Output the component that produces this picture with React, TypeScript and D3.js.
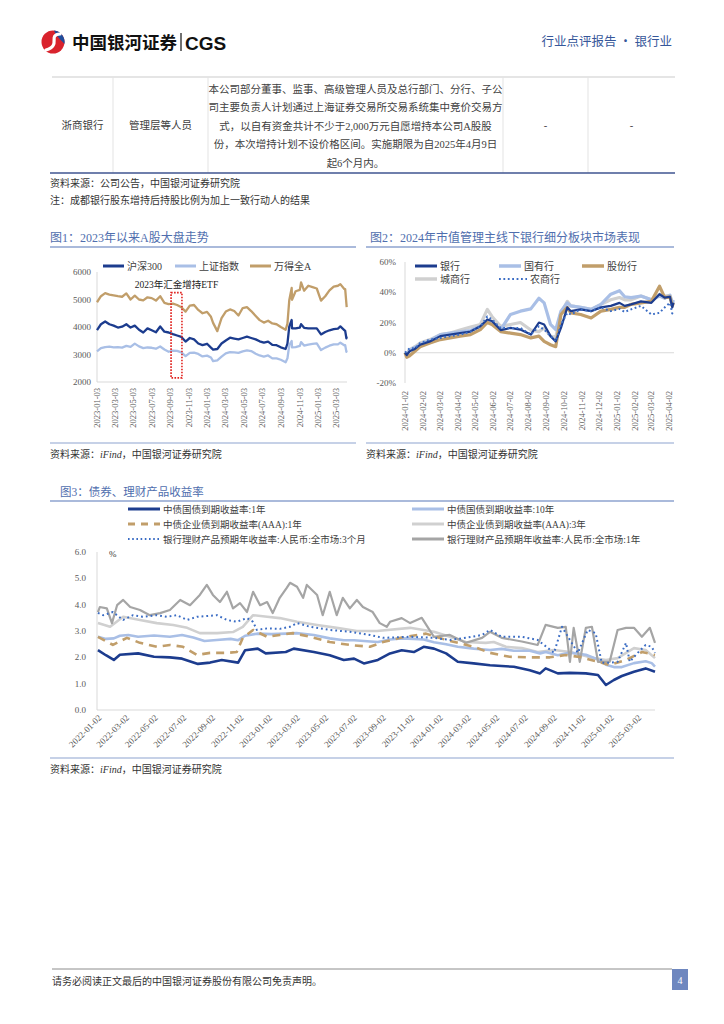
import * as d3 from "d3";

const parse = d3.timeParse("%Y-%m-%d") as (s: string) => Date;

const SERIF = "'Liberation Serif', 'Noto Sans CJK SC', serif";
const CJK = "'Noto Sans CJK SC', 'Liberation Serif', sans-serif";
const TITLE_BLUE = "#4f6eae";
const RULE_BLUE = "#8ea3cf";
const TICK_GREY = "#595959";

// colours
const NAVY = "#1c3c8e";
const LIGHT_BLUE = "#a9bfe6";
const TAN = "#c19e6a";
const LIGHT_GREY = "#d0d0d0";
const DOT_BLUE = "#3a6cc4";
const GREY = "#a5a5a5";

// ---------------- 图1：2023年以来A股大盘走势 ----------------
const dates1 = [
  "2023-01-03", "2023-01-16", "2023-01-30", "2023-02-13", "2023-02-27", "2023-03-13", "2023-03-27",
  "2023-04-10", "2023-04-24", "2023-05-08", "2023-05-22", "2023-06-05", "2023-06-19", "2023-07-03",
  "2023-07-17", "2023-07-31", "2023-08-14", "2023-08-28", "2023-09-11", "2023-09-25", "2023-10-09",
  "2023-10-23", "2023-11-06", "2023-11-20", "2023-12-04", "2023-12-18",
  "2024-01-02", "2024-01-15", "2024-01-22", "2024-02-05", "2024-02-19", "2024-03-04", "2024-03-18",
  "2024-04-01", "2024-04-15", "2024-04-29", "2024-05-13", "2024-05-27", "2024-06-11", "2024-06-24",
  "2024-07-08", "2024-07-22", "2024-08-05", "2024-08-19", "2024-09-02", "2024-09-18", "2024-09-24",
  "2024-09-30", "2024-10-08", "2024-10-09", "2024-10-21", "2024-11-04", "2024-11-08", "2024-11-18",
  "2024-12-02", "2024-12-16", "2024-12-30",
  "2025-01-13", "2025-01-27", "2025-02-10", "2025-02-24", "2025-03-10", "2025-03-18", "2025-03-31",
  "2025-04-03", "2025-04-07", "2025-04-08",
];
const hs300 = [
  3887, 4100, 4200, 4100, 4050, 3980, 4010, 4100, 3980, 4050, 3900, 3800, 3950, 3880, 3810, 4020,
  3830, 3800, 3740, 3690, 3640, 3470, 3600, 3550, 3400, 3340,
  3390, 3250, 3180, 3200, 3400, 3510, 3610, 3580, 3550, 3600, 3650, 3600, 3550, 3480, 3430, 3470,
  3350, 3340, 3260, 3200, 3400, 4017, 4256, 3955, 3950, 3980, 4105, 3970, 3950, 3950, 3950,
  3730, 3820, 3880, 3920, 3940, 4020, 3890, 3860, 3590, 3650,
];
const szzs = [
  3116, 3230, 3270, 3285, 3260, 3270, 3250, 3315, 3275, 3395, 3295, 3230, 3255, 3245, 3210, 3290,
  3180, 3100, 3140, 3130, 3075, 2940, 3060, 3070, 3020, 2930,
  2960, 2890, 2760, 2790, 2920, 3040, 3085, 3080, 3060, 3115, 3150, 3125, 3030, 2965, 2925, 2965,
  2860, 2860, 2810, 2720, 2860, 3336, 3489, 3258, 3268, 3310, 3452, 3324, 3363, 3386, 3407,
  3160, 3250, 3320, 3370, 3366, 3430, 3336, 3342, 3097, 3145,
];
const wdqa = [
  4900, 5120, 5230, 5180, 5150, 5120, 5100, 5220, 5000, 5140, 5000, 4970, 5080, 5050, 4960, 5120,
  4880, 4830, 4850, 4800, 4720, 4560, 4780, 4800, 4620, 4500,
  4550, 4370, 4150, 3850, 4320, 4560, 4640, 4580, 4420, 4690, 4720, 4580, 4400, 4250, 4160, 4230,
  4130, 4100, 4000, 3900, 4120, 4970, 5420, 4990, 5300, 5350, 5620, 5320, 5500, 5450, 5400,
  4960, 5120, 5330, 5470, 5500, 5560, 5380, 5380, 4850, 4720,
];
const ticks1 = [
  "2023-01-03", "2023-03-03", "2023-05-03", "2023-07-03", "2023-09-03", "2023-11-03", "2024-01-03",
  "2024-03-03", "2024-05-03", "2024-07-03", "2024-09-03", "2024-11-03", "2025-01-03", "2025-03-03",
];
const yTicks1 = [2000, 3000, 4000, 5000, 6000];
// 汇金增持ETF 标注区间
const huijinStart = "2023-09-05";
const huijinEnd = "2023-10-11";
const huijinHigh = 5250;
const huijinLow = 2150;

// ---------------- 图2：2024年市值管理主线下银行细分板块市场表现 ----------------
const dates2 = [
  "2024-01-02", "2024-01-05", "2024-01-10", "2024-01-19", "2024-01-28", "2024-02-14", "2024-03-03",
  "2024-03-20", "2024-04-06", "2024-04-24", "2024-05-11", "2024-05-23", "2024-05-31", "2024-06-15",
  "2024-07-02", "2024-07-19", "2024-08-06", "2024-08-20", "2024-08-29", "2024-09-09", "2024-09-18",
  "2024-09-27", "2024-10-08", "2024-10-14", "2024-10-31", "2024-11-18", "2024-12-05", "2024-12-22",
  "2025-01-06", "2025-01-15", "2025-01-26", "2025-02-12", "2025-03-02", "2025-03-16", "2025-03-25",
  "2025-04-03", "2025-04-07", "2025-04-09",
];
const bankAll = [
  0, -1.5, 1, 2.5, 5.3, 7.5, 11, 12, 13, 14, 17.5, 22, 21, 15, 16.4, 15.3, 12, 20, 18.7, 11, 7.5,
  16.4, 30, 27.5, 28.7, 27.5, 30, 31, 33, 31, 32, 34, 33, 38.7, 36.4, 37, 30, 33,
];
const bankState = [
  0, -0.5, 1.5, 3.5, 5.3, 8, 12, 13, 13.8, 14.7, 17.5, 20, 20, 15.3, 25.3, 27.5, 29, 36, 33, 18.7,
  15.3, 27.5, 33, 31, 30, 28.7, 32, 38.7, 41, 37, 36.4, 37.5, 35, 37.5, 36, 38, 33, 35,
];
const bankJoint = [
  0, -3, -2, 1, 4, 6.4, 8.7, 9.8, 11, 12, 15.3, 20, 18.7, 14, 13, 12, 9.8, 11, 7.5, 5.3, 4, 25.3, 30,
  26.4, 25.3, 23, 27.5, 28.7, 30, 30, 32, 33, 34, 44, 36.4, 37, 31, 33,
];
const bankCity = [
  0, -1, 2, 4, 6.4, 8.7, 12, 13, 15, 17, 18.7, 28.7, 24, 17.5, 18.7, 20, 15, 14, 16.4, 11, 10, 26,
  34, 31, 30, 28.7, 32, 35, 36.5, 35, 35, 37.5, 35, 38.7, 37.5, 38, 32, 34,
];
const bankRural = [
  0, 1, 3, 3, 6.4, 8.7, 9.8, 11, 12, 14, 17.5, 24, 22, 16.4, 16.4, 16.4, 12, 17.5, 15.3, 11, 7.5,
  18.7, 26.4, 25.3, 28.7, 27.5, 30, 27.5, 29, 27, 28.7, 31, 25.3, 26.4, 30, 33, 26, 28,
];
const ticks2 = [
  "2024-01-02", "2024-02-02", "2024-03-02", "2024-04-02", "2024-05-02", "2024-06-02", "2024-07-02",
  "2024-08-02", "2024-09-02", "2024-10-02", "2024-11-02", "2024-12-02", "2025-01-02", "2025-02-02",
  "2025-03-02", "2025-04-02",
];
const yTicks2 = [-20, 0, 20, 40, 60];

// ---------------- 图3：债券、理财产品收益率 ----------------
type Pt = [string, number];
const cgb1y: Pt[] = [
  ["2022-01-04", 2.27], ["2022-01-21", 2.08], ["2022-02-07", 1.9], ["2022-02-20", 2.1], ["2022-03-31", 2.15],
  ["2022-05-04", 2.02], ["2022-06-07", 2.0], ["2022-07-03", 1.95], ["2022-08-06", 1.75], ["2022-09-01", 1.8],
  ["2022-09-26", 1.9], ["2022-10-31", 1.8], ["2022-11-15", 2.27], ["2022-12-12", 2.33], ["2022-12-29", 2.15],
  ["2023-02-10", 2.2], ["2023-02-27", 2.33], ["2023-04-11", 2.2], ["2023-05-15", 2.08], ["2023-06-14", 1.9],
  ["2023-07-06", 1.95], ["2023-07-27", 1.77], ["2023-08-26", 1.9], ["2023-09-21", 2.15], ["2023-10-16", 2.27],
  ["2023-11-11", 2.2], ["2023-12-02", 2.4], ["2023-12-24", 2.33], ["2024-01-19", 2.15], ["2024-02-13", 1.83],
  ["2024-03-18", 1.77], ["2024-04-22", 1.7], ["2024-05-17", 1.67], ["2024-06-12", 1.64], ["2024-07-16", 1.51],
  ["2024-08-07", 1.39], ["2024-08-19", 1.58], ["2024-09-14", 1.39], ["2024-10-10", 1.41], ["2024-11-13", 1.39],
  ["2024-12-09", 1.33], ["2024-12-26", 0.95], ["2025-01-12", 1.14], ["2025-01-29", 1.29], ["2025-02-24", 1.45],
  ["2025-03-21", 1.58], ["2025-04-10", 1.45],
];
const cgb10y: Pt[] = [
  ["2022-01-04", 2.78], ["2022-01-21", 2.7], ["2022-02-07", 2.72], ["2022-02-20", 2.82], ["2022-03-10", 2.85],
  ["2022-03-31", 2.78], ["2022-05-04", 2.83], ["2022-06-07", 2.78], ["2022-07-03", 2.85], ["2022-07-27", 2.75],
  ["2022-08-20", 2.62], ["2022-09-15", 2.66], ["2022-10-15", 2.7], ["2022-10-31", 2.65], ["2022-11-15", 2.82],
  ["2022-12-12", 2.9], ["2023-01-10", 2.88], ["2023-02-10", 2.9], ["2023-03-05", 2.92], ["2023-04-11", 2.85],
  ["2023-05-15", 2.72], ["2023-06-14", 2.65], ["2023-07-06", 2.65], ["2023-08-10", 2.6], ["2023-08-26", 2.58],
  ["2023-09-21", 2.68], ["2023-10-16", 2.72], ["2023-11-11", 2.7], ["2023-12-02", 2.68], ["2023-12-24", 2.57],
  ["2024-01-19", 2.5], ["2024-02-13", 2.4], ["2024-03-18", 2.33], ["2024-04-22", 2.28], ["2024-05-17", 2.32],
  ["2024-06-12", 2.25], ["2024-07-16", 2.25], ["2024-08-07", 2.15], ["2024-08-19", 2.2], ["2024-09-14", 2.08],
  ["2024-10-10", 2.18], ["2024-11-13", 2.1], ["2024-12-09", 1.92], ["2024-12-26", 1.72], ["2025-01-12", 1.63],
  ["2025-01-29", 1.63], ["2025-02-24", 1.78], ["2025-03-21", 1.85], ["2025-04-03", 1.78], ["2025-04-10", 1.65],
];
const corp1y: Pt[] = [
  ["2022-01-04", 2.78], ["2022-02-05", 2.47], ["2022-03-07", 2.74], ["2022-04-04", 2.55], ["2022-05-10", 2.4],
  ["2022-06-07", 2.47], ["2022-07-05", 2.4], ["2022-08-04", 2.09], ["2022-09-01", 2.17], ["2022-10-07", 2.17],
  ["2022-10-28", 2.2], ["2022-11-10", 2.74], ["2022-12-02", 3.04], ["2023-01-01", 2.78], ["2023-01-28", 2.85],
  ["2023-02-25", 2.92], ["2023-04-03", 2.78], ["2023-05-15", 2.58], ["2023-06-27", 2.47], ["2023-08-09", 2.4],
  ["2023-09-06", 2.58], ["2023-10-16", 2.75], ["2023-12-07", 2.9], ["2024-01-19", 2.66], ["2024-03-18", 2.4],
  ["2024-04-22", 2.17], ["2024-06-03", 2.02], ["2024-07-16", 2.0], ["2024-08-28", 2.0], ["2024-10-01", 2.09],
  ["2024-11-04", 2.0], ["2024-12-09", 1.83], ["2025-01-03", 1.71], ["2025-02-07", 1.9], ["2025-03-13", 2.2],
  ["2025-04-10", 2.09],
];
const corp3y: Pt[] = [
  ["2022-01-04", 3.3], ["2022-01-30", 3.16], ["2022-02-27", 3.54], ["2022-04-04", 3.42], ["2022-05-10", 3.3],
  ["2022-06-14", 3.23], ["2022-07-14", 3.12], ["2022-08-10", 2.92], ["2022-09-16", 2.92], ["2022-10-20", 2.96],
  ["2022-11-10", 3.16], ["2022-12-02", 3.6], ["2023-01-01", 3.54], ["2023-01-28", 3.49], ["2023-03-06", 3.35],
  ["2023-04-18", 3.23], ["2023-05-30", 3.12], ["2023-07-12", 3.0], ["2023-08-24", 3.0], ["2023-11-03", 3.12],
  ["2023-12-24", 2.97], ["2024-01-27", 2.78], ["2024-03-01", 2.58], ["2024-04-13", 2.55], ["2024-04-30", 2.58],
  ["2024-05-26", 2.4], ["2024-06-29", 2.35], ["2024-08-02", 2.2], ["2024-09-06", 2.28], ["2024-10-10", 2.2],
  ["2024-11-04", 2.09], ["2024-11-30", 1.97], ["2024-12-26", 1.9], ["2025-01-20", 1.97], ["2025-02-24", 2.35],
  ["2025-03-21", 2.28], ["2025-04-10", 1.97],
];
const wmp3m: Pt[] = [
  ["2022-01-04", 3.69], ["2022-01-15", 3.6], ["2022-02-05", 3.72], ["2022-02-27", 3.42], ["2022-03-20", 3.6],
  ["2022-04-10", 3.54], ["2022-05-10", 3.6], ["2022-06-01", 3.54], ["2022-06-22", 3.6], ["2022-07-14", 3.42],
  ["2022-08-04", 3.54], ["2022-08-25", 3.57], ["2022-09-16", 3.6], ["2022-10-07", 3.42], ["2022-10-28", 3.35],
  ["2022-11-19", 3.49], ["2022-12-02", 3.35], ["2022-12-10", 3.04], ["2023-01-01", 3.1], ["2023-01-28", 3.08],
  ["2023-02-19", 3.16], ["2023-03-06", 3.3], ["2023-04-03", 3.16], ["2023-05-15", 3.04], ["2023-06-27", 2.97],
  ["2023-08-09", 2.85], ["2023-09-06", 2.74], ["2023-11-03", 2.78], ["2023-12-24", 2.74], ["2024-01-27", 2.66],
  ["2024-03-01", 2.74], ["2024-04-05", 2.85], ["2024-04-22", 3.04], ["2024-05-17", 2.78], ["2024-06-29", 2.78],
  ["2024-08-02", 2.66], ["2024-09-06", 2.17], ["2024-09-23", 3.16], ["2024-10-10", 2.66], ["2024-10-27", 2.17],
  ["2024-11-17", 3.04], ["2024-12-04", 2.92], ["2024-12-17", 1.79], ["2025-01-03", 1.79], ["2025-01-20", 1.83],
  ["2025-02-07", 2.55], ["2025-02-15", 1.83], ["2025-03-04", 2.17], ["2025-03-21", 2.47], ["2025-04-03", 2.4],
  ["2025-04-10", 2.17],
];
const wmp1y: Pt[] = [
  ["2022-01-04", 3.72], ["2022-01-08", 3.91], ["2022-01-23", 3.86], ["2022-02-03", 3.3], ["2022-02-14", 3.98],
  ["2022-02-27", 4.18], ["2022-03-14", 3.91], ["2022-04-04", 3.8], ["2022-04-25", 3.6], ["2022-05-17", 3.68],
  ["2022-06-07", 3.8], ["2022-06-29", 4.18], ["2022-07-20", 3.98], ["2022-08-10", 4.37], ["2022-08-25", 4.75],
  ["2022-09-07", 4.37], ["2022-09-22", 4.1], ["2022-10-07", 4.49], ["2022-10-20", 3.86], ["2022-11-04", 4.06],
  ["2022-11-19", 3.72], ["2022-12-02", 4.49], ["2022-12-17", 3.98], ["2023-01-01", 4.1], ["2023-01-13", 3.68],
  ["2023-01-28", 4.26], ["2023-02-12", 4.64], ["2023-02-19", 4.83], ["2023-03-06", 4.68], ["2023-03-19", 4.26],
  ["2023-03-27", 4.75], ["2023-04-18", 4.37], ["2023-04-30", 3.6], ["2023-05-15", 4.49], ["2023-05-30", 3.6],
  ["2023-06-12", 4.26], ["2023-06-27", 3.86], ["2023-07-12", 4.18], ["2023-07-25", 3.91], ["2023-08-15", 3.72],
  ["2023-08-30", 3.3], ["2023-09-14", 3.16], ["2023-09-21", 3.35], ["2023-10-16", 3.49], ["2023-11-03", 3.3],
  ["2023-11-28", 3.5], ["2023-12-24", 2.78], ["2024-01-27", 2.85], ["2024-03-01", 2.55], ["2024-04-05", 2.74],
  ["2024-04-22", 2.97], ["2024-05-17", 2.74], ["2024-06-29", 2.6], ["2024-08-02", 2.47], ["2024-08-19", 3.23],
  ["2024-09-14", 3.12], ["2024-10-01", 3.16], ["2024-10-10", 1.83], ["2024-10-18", 3.12], ["2024-10-31", 1.83],
  ["2024-11-13", 3.12], ["2024-11-26", 3.16], ["2024-12-09", 1.83], ["2025-01-03", 1.83], ["2025-01-20", 3.04],
  ["2025-02-07", 3.12], ["2025-02-24", 3.12], ["2025-03-13", 2.78], ["2025-03-30", 3.12], ["2025-04-10", 2.55],
];
const ticks3 = [
  "2022-01-02", "2022-03-02", "2022-05-02", "2022-07-02", "2022-09-02", "2022-11-02", "2023-01-02",
  "2023-03-02", "2023-05-02", "2023-07-02", "2023-09-02", "2023-11-02", "2024-01-02", "2024-03-02",
  "2024-05-02", "2024-07-02", "2024-09-02", "2024-11-02", "2025-01-02", "2025-03-02",
];
const yTicks3 = [0, 1, 2, 3, 4, 5, 6];

const tableText = [
  "本公司部分董事、监事、高级管理人员及总行部门、分行、子公",
  "司主要负责人计划通过上海证券交易所交易系统集中竞价交易方",
  "式，以自有资金共计不少于2,000万元自愿增持本公司A股股",
  "份，本次增持计划不设价格区间。实施期限为自2025年4月9日",
  "起6个月内。",
];

function Title({ x, y, x1, x2, text }: { x: number; y: number; x1: number; x2: number; text: string }) {
  return (
    <g>
      <text x={x} y={y} fontSize={12} fill={TITLE_BLUE} fontFamily={SERIF}>{text}</text>
      <line x1={x1} x2={x2} y1={y + 5} y2={y + 5} stroke={RULE_BLUE} strokeWidth={1.5} />
    </g>
  );
}

function Source({ x1, x2, y }: { x1: number; x2: number; y: number }) {
  return (
    <g>
      <line x1={x1} x2={x2} y1={y} y2={y} stroke={RULE_BLUE} strokeWidth={1.2} />
      <text x={x1} y={y + 15} fontSize={10} fill="#333" fontFamily={SERIF}>
        资料来源：<tspan fontStyle="italic">iFind</tspan>，中国银河证券研究院
      </text>
    </g>
  );
}

function Chart1() {
  const x = d3.scaleTime().domain([parse("2023-01-03"), parse("2025-04-09")]).range([97, 347]);
  const y = d3.scaleLinear().domain([2000, 6000]).range([382, 272]);
  const line = (vals: number[]) =>
    d3.line<number>().x((_, i) => x(parse(dates1[i]))).y((v) => y(v))(vals) || "";
  const series = [
    { name: "万得全A", vals: wdqa, color: TAN },
    { name: "上证指数", vals: szzs, color: LIGHT_BLUE },
    { name: "沪深300", vals: hs300, color: NAVY },
  ];
  const legend = [
    { name: "沪深300", color: NAVY, lx: 103 },
    { name: "上证指数", color: LIGHT_BLUE, lx: 175 },
    { name: "万得全A", color: TAN, lx: 250 },
  ];
  return (
    <g>
      <Title x={50} y={242} x1={50} x2={356} text="图1：2023年以来A股大盘走势" />
      {legend.map((l) => (
        <g key={l.name}>
          <line x1={l.lx} x2={l.lx + 21} y1={266} y2={266} stroke={l.color} strokeWidth={3} />
          <text x={l.lx + 24} y={269.5} fontSize={10} fill="#404040" fontFamily={SERIF}>{l.name}</text>
        </g>
      ))}
      <line x1={97} x2={97} y1={272} y2={382} stroke="#d9d9d9" />
      <line x1={97} x2={347} y1={382} y2={382} stroke="#d9d9d9" />
      {yTicks1.map((t) => (
        <text key={t} x={91} y={y(t)} dy="0.35em" textAnchor="end" fontSize={9} fill={TICK_GREY} fontFamily={SERIF}>
          {t}
        </text>
      ))}
      {ticks1.map((t) => (
        <text key={t} transform={`translate(${x(parse(t))},388) rotate(-90)`} dy="0.35em" textAnchor="end"
          fontSize={8.5} fill={TICK_GREY} fontFamily={SERIF}>{t}</text>
      ))}
      {series.map((s) => (
        <path key={s.name} d={line(s.vals)} fill="none" stroke={s.color} strokeWidth={2.3} strokeLinejoin="round" />
      ))}
      <rect x={x(parse(huijinStart))} y={y(huijinHigh)} width={x(parse(huijinEnd)) - x(parse(huijinStart))}
        height={y(huijinLow) - y(huijinHigh)} fill="none" stroke="#e0211d" strokeWidth={1.6} strokeDasharray="1.6,1.4" />
      <text x={(x(parse(huijinStart)) + x(parse(huijinEnd))) / 2} y={288} textAnchor="middle" fontSize={9.5}
        fill="#222" fontFamily={SERIF}>2023年汇金增持ETF</text>
      <Source x1={50} x2={356} y={443} />
    </g>
  );
}

function Chart2() {
  const x = d3.scaleTime().domain([parse("2024-01-02"), parse("2025-04-10")]).range([405, 674]);
  const y = d3.scaleLinear().domain([-20, 60]).range([383, 262]);
  const line = (vals: number[]) =>
    d3.line<number>().x((_, i) => x(parse(dates2[i]))).y((v) => y(v))(vals) || "";
  const series = [
    { name: "城商行", vals: bankCity, color: LIGHT_GREY, w: 3.2, dash: undefined },
    { name: "国有行", vals: bankState, color: LIGHT_BLUE, w: 3.2, dash: undefined },
    { name: "股份行", vals: bankJoint, color: TAN, w: 3.2, dash: undefined },
    { name: "银行", vals: bankAll, color: NAVY, w: 2.2, dash: undefined },
    { name: "农商行", vals: bankRural, color: DOT_BLUE, w: 2, dash: "1.8,2.6" },
  ];
  const legend = [
    { name: "银行", color: NAVY, w: 3, lx: 415, ly: 266, dash: undefined },
    { name: "国有行", color: LIGHT_BLUE, w: 3.5, lx: 499, ly: 266, dash: undefined },
    { name: "股份行", color: TAN, w: 3.5, lx: 582, ly: 266, dash: undefined },
    { name: "城商行", color: LIGHT_GREY, w: 3.5, lx: 415, ly: 279, dash: undefined },
    { name: "农商行", color: DOT_BLUE, w: 2, lx: 499, ly: 279, dash: "1.8,2.6" },
  ];
  return (
    <g>
      <Title x={370} y={242} x1={366} x2={674} text="图2：2024年市值管理主线下银行细分板块市场表现" />
      {legend.map((l) => (
        <g key={l.name}>
          <line x1={l.lx} x2={l.lx + (l.dash ? 28 : 22)} y1={l.ly} y2={l.ly} stroke={l.color} strokeWidth={l.w}
            strokeDasharray={l.dash} />
          <text x={l.lx + (l.dash ? 31 : 25)} y={l.ly + 3.5} fontSize={10} fill="#404040" fontFamily={SERIF}>{l.name}</text>
        </g>
      ))}
      <line x1={405} x2={405} y1={262} y2={383} stroke="#d9d9d9" />
      <line x1={405} x2={674} y1={y(0)} y2={y(0)} stroke="#d9d9d9" />
      {yTicks2.map((t) => (
        <text key={t} x={396} y={y(t)} dy="0.35em" textAnchor="end" fontSize={9} fill={TICK_GREY} fontFamily={SERIF}>
          {t}%
        </text>
      ))}
      {ticks2.map((t) => (
        <text key={t} transform={`translate(${x(parse(t))},391) rotate(-90)`} dy="0.35em" textAnchor="end"
          fontSize={8.5} fill={TICK_GREY} fontFamily={SERIF}>{t}</text>
      ))}
      {series.map((s) => (
        <path key={s.name} d={line(s.vals)} fill="none" stroke={s.color} strokeWidth={s.w}
          strokeDasharray={s.dash} strokeLinejoin="round" />
      ))}
      <Source x1={366} x2={674} y={443} />
    </g>
  );
}

function Chart3() {
  const x = d3.scaleTime().domain([parse("2022-01-02"), parse("2025-04-10")]).range([97, 655]);
  const y = d3.scaleLinear().domain([0, 6]).range([710, 552]);
  const line = d3.line<Pt>().x((d) => x(parse(d[0]))).y((d) => y(d[1]));
  const series = [
    { name: "中债企业债到期收益率(AAA):3年", data: corp3y, color: LIGHT_GREY, w: 2.6, dash: undefined },
    { name: "中债国债到期收益率:10年", data: cgb10y, color: LIGHT_BLUE, w: 2.6, dash: undefined },
    { name: "银行理财产品预期年收益率:人民币:全市场:1年", data: wmp1y, color: GREY, w: 2.2, dash: undefined },
    { name: "中债企业债到期收益率(AAA):1年", data: corp1y, color: TAN, w: 2.6, dash: "8,6" },
    { name: "银行理财产品预期年收益率:人民币:全市场:3个月", data: wmp3m, color: DOT_BLUE, w: 2, dash: "1.8,3" },
    { name: "中债国债到期收益率:1年", data: cgb1y, color: NAVY, w: 2.6, dash: undefined },
  ];
  const legend = [
    { name: "中债国债到期收益率:1年", color: NAVY, w: 3, dash: undefined, lx: 128, ly: 509 },
    { name: "中债国债到期收益率:10年", color: LIGHT_BLUE, w: 3, dash: undefined, lx: 412, ly: 509 },
    { name: "中债企业债到期收益率(AAA):1年", color: TAN, w: 3, dash: "7,6", lx: 128, ly: 524 },
    { name: "中债企业债到期收益率(AAA):3年", color: LIGHT_GREY, w: 3, dash: undefined, lx: 412, ly: 524 },
    { name: "银行理财产品预期年收益率:人民币:全市场:3个月", color: DOT_BLUE, w: 2, dash: "1.6,2.6", lx: 128, ly: 539 },
    { name: "银行理财产品预期年收益率:人民币:全市场:1年", color: GREY, w: 3, dash: undefined, lx: 412, ly: 539 },
  ];
  return (
    <g>
      <text x={60} y={496} fontSize={11.5} fill={TITLE_BLUE} fontFamily={SERIF}>图3：债券、理财产品收益率</text>
      <line x1={50} x2={674} y1={501} y2={501} stroke={RULE_BLUE} strokeWidth={1.5} />
      {legend.map((l) => (
        <g key={l.name}>
          <line x1={l.lx} x2={l.lx + 32} y1={l.ly} y2={l.ly} stroke={l.color} strokeWidth={l.w} strokeDasharray={l.dash} />
          <text x={l.lx + 35} y={l.ly + 3.5} fontSize={9.5} fill="#404040" fontFamily={SERIF}>{l.name}</text>
        </g>
      ))}
      <line x1={97} x2={97} y1={552} y2={710} stroke="#d9d9d9" />
      <line x1={97} x2={655} y1={710} y2={710} stroke="#d9d9d9" />
      {yTicks3.map((t) => (
        <text key={t} x={86} y={y(t)} dy="0.35em" textAnchor="end" fontSize={9} fill={TICK_GREY} fontFamily={SERIF}>
          {t.toFixed(1)}
        </text>
      ))}
      <text x={109} y={y(6)} dy="0.5em" fontSize={9} fill="#333" fontFamily={SERIF}>%</text>
      {ticks3.map((t) => (
        <text key={t} transform={`translate(${x(parse(t)) + 3},716) rotate(-45)`} dy="0.35em" textAnchor="end"
          fontSize={9} fill={TICK_GREY} fontFamily={SERIF}>{t}</text>
      ))}
      {series.map((s) => (
        <path key={s.name} d={line(s.data) || ""} fill="none" stroke={s.color} strokeWidth={s.w}
          strokeDasharray={s.dash} strokeLinejoin="round" />
      ))}
      <line x1={50} x2={674} y1={758} y2={758} stroke={RULE_BLUE} strokeWidth={1.2} />
      <text x={50} y={773} fontSize={10} fill="#333" fontFamily={SERIF}>
        资料来源：<tspan fontStyle="italic">iFind</tspan>，中国银河证券研究院
      </text>
    </g>
  );
}

function Header() {
  return (
    <g>
      <g transform="translate(53,42)">
        <circle r={11.5} fill="#d9232d" />
        <path d="M 1 -11.4 A 11.5 11.5 0 0 1 11.4 2 C 7 -3, 3 -6, 1 -11.4 Z" fill="#1e4d9b" />
        <path d="M 7 -8 C -6 -7, 9 3, -7 8" stroke="#fff" strokeWidth={3.2} fill="none" strokeLinecap="round" />
      </g>
      <text x={72} y={49} fontSize={17.5} fontWeight="bold" fill="#111" fontFamily={CJK}>中国银河证券</text>
      <line x1={181} x2={181} y1={33} y2={51} stroke="#111" strokeWidth={1.2} />
      <text x={185} y={49.5} fontSize={19} fontWeight="bold" fill="#111" fontFamily="'Liberation Sans', Arial, sans-serif">CGS</text>
      <text x={672} y={46} textAnchor="end" fontSize={12.5} fill="#36579a" fontFamily={CJK}>行业点评报告 · 银行业</text>
    </g>
  );
}

function Table() {
  const cols = [113, 208, 503, 588];
  return (
    <g fontFamily={SERIF} fill="#404040">
      <line x1={52} x2={675} y1={77} y2={77} stroke="#dcdcdc" strokeWidth={1.5} />
      {cols.map((c) => (
        <line key={c} x1={c} x2={c} y1={77} y2={173} stroke="#e3e3e3" />
      ))}
      <line x1={50} x2={675} y1={173} y2={173} stroke="#3f5591" strokeWidth={1.6} />
      <text x={82.5} y={125} dy="0.35em" textAnchor="middle" fontSize={10.5}>浙商银行</text>
      <text x={160.5} y={125} dy="0.35em" textAnchor="middle" fontSize={10.5}>管理层等人员</text>
      {tableText.map((t, i) => (
        <text key={i} x={355.5} y={89 + i * 18.5} dy="0.35em" textAnchor="middle" fontSize={10.5}>{t}</text>
      ))}
      <text x={545.5} y={125} dy="0.35em" textAnchor="middle" fontSize={10.5}>-</text>
      <text x={631.5} y={125} dy="0.35em" textAnchor="middle" fontSize={10.5}>-</text>
      <text x={50} y={187} fontSize={10} fill="#333">资料来源：公司公告，中国银河证券研究院</text>
      <text x={50} y={204} fontSize={10} fill="#333">注：成都银行股东增持后持股比例为加上一致行动人的结果</text>
    </g>
  );
}

function Footer() {
  return (
    <g>
      <line x1={52} x2={672} y1={969} y2={969} stroke="#8c8c8c" strokeWidth={1} />
      <text x={52} y={985} fontSize={10} fill="#333" fontFamily={SERIF}>请务必阅读正文最后的中国银河证券股份有限公司免责声明。</text>
      <rect x={672} y={969} width={16} height={21} fill="#6e87bf" />
      <text x={680} y={980} dy="0.35em" textAnchor="middle" fontSize={10} fill="#fff" fontFamily={SERIF}>4</text>
    </g>
  );
}

export default function App() {
  return (
    <svg width={724} height={1024} viewBox="0 0 724 1024"
      style={{ position: "absolute", left: 0, top: 0, background: "#fff", display: "block" }}>
      <rect width={724} height={1024} fill="#fff" />
      <Header />
      <Table />
      <Chart1 />
      <Chart2 />
      <Chart3 />
      <Footer />
    </svg>
  );
}
